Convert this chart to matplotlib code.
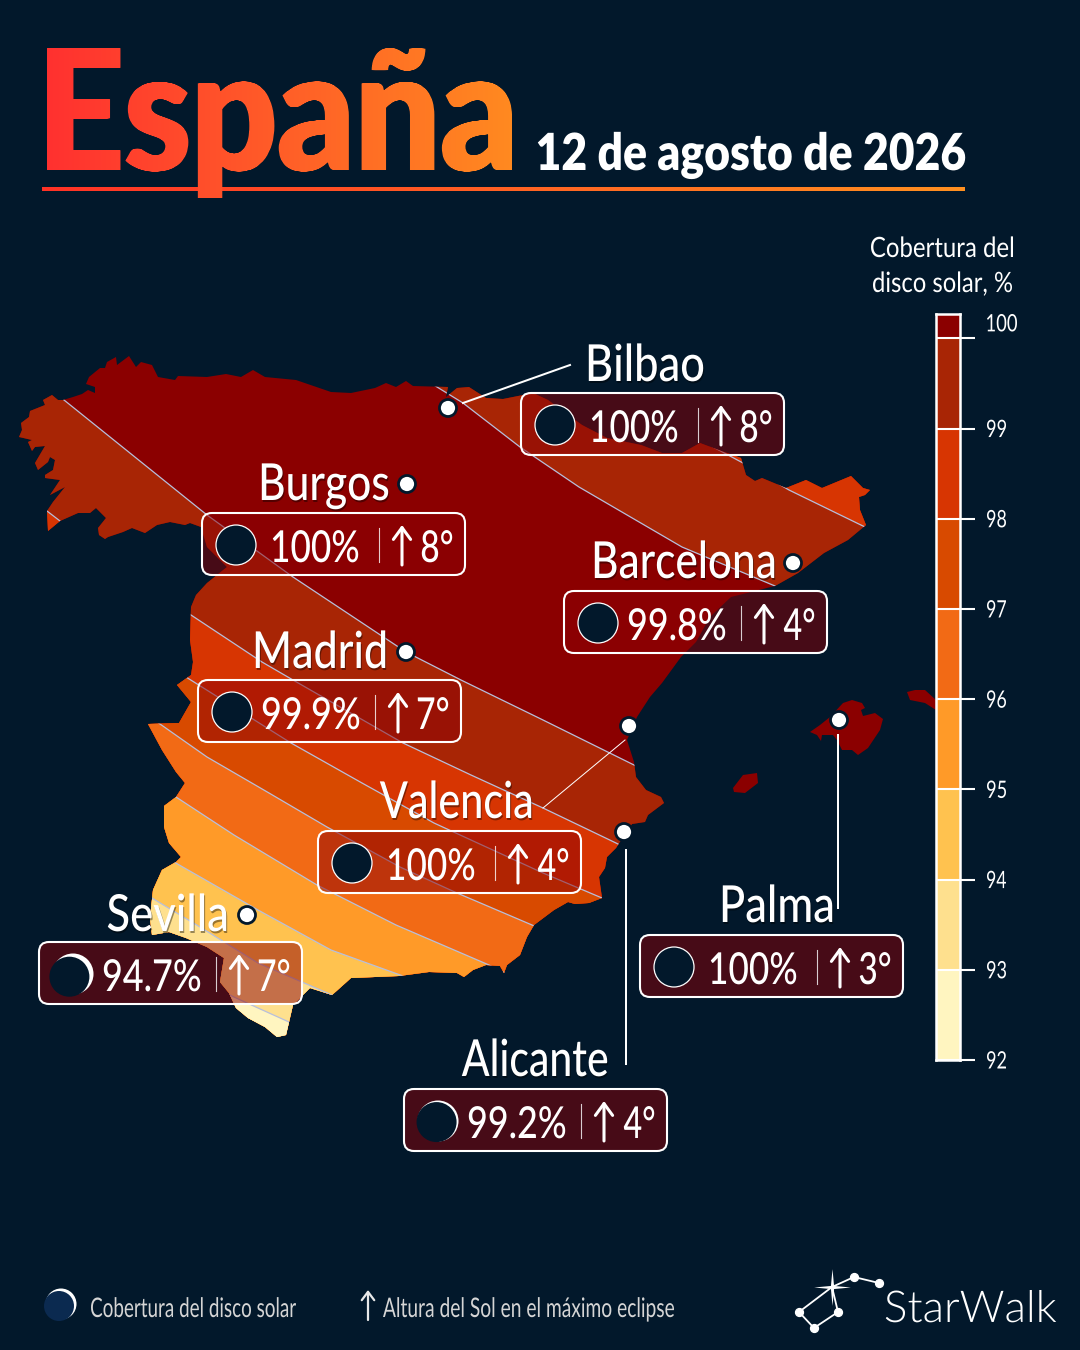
import matplotlib
matplotlib.use("Agg")
import matplotlib.pyplot as plt
import matplotlib.patheffects as pe
from matplotlib.patches import Polygon, Circle, FancyBboxPatch
from matplotlib.path import Path
from matplotlib.text import Text
from matplotlib.textpath import TextPath
from matplotlib.font_manager import FontProperties
from matplotlib.colors import to_rgb
from matplotlib.transforms import Affine2D, Bbox
import numpy as np

BG = "#02182b"
FONT = "Lato"

# coast (pixel positions)
coast = [(43,400),(52,395),(58,400),(63,400),(73,397),(82,394),(88,390),(95,393),(95,387),(86,384),(89,377),(100,368),
         (105,368),(107,362),(116,357),(117,365),(129,356),(136,367),(141,362),(152,365),(158,377),(175,380),(178,376),
         (207,377),(226,374),(241,377),(253,370),
         (265,377),(296,380),(331,392),(351,393),(375,388),(386,383),(396,387),(406,381),(413,386),(448,387),
         (446,397),(457,388),(469,387),(486,398),(503,399),(533,393),(548,400),(582,425),(607,438),(641,445),
         (662,453),(682,453),(700,443),(724,452),(741,458),(746,475),(755,481),(762,478),(786,488),(806,480),
         (822,488),(851,476),(863,488),(870,490),(865,495),(859,497),(860,510),(866,525),(848,540),(824,553),
         (798,573),(775,586),(731,597),(710,617),(696,642),(681,657),(662,683),(650,697),(637,717),(627,740),
         (634,762),(636,777),(646,790),(661,797),(664,803),(648,815),(645,822),(632,824),(623,837),(616,848),
         (607,857),(605,868),(599,877),(602,898),(589,903),(575,904),(568,902),(554,910),(534,925),(527,937),
         (520,955),(507,965),(504,973),(500,966),(486,965),(473,970),(464,977),(457,973),(429,972),(399,976),
         (351,978),(341,987),(332,995),(310,988),(293,1005),(286,1035),(277,1037),(265,1027),(248,1018),
         (236,1008),(229,993),(220,982),(224,958),(207,947),(186,938),(169,932),(152,935),(150,918),(153,890),
         (162,870),(176,862),(181,857),(169,843),(164,827),(164,806),(176,797),(185,783),(176,772),(162,750),
         (148,724),(179,723),(191,702),(177,685),(191,675),(193,662),(190,640),(191,607),(196,595),(207,583),
         (227,567),(207,547),(201,527),(190,523),(185,525),(170,522),(157,525),(145,533),(132,528),(123,532),(108,537),
         (105,539),(99,535),(98,528),(106,518),(96,508),(90,513),(78,513),(60,521),(48,531),(47,511),(53,502),(65,487),
         (50,495),(60,480),(45,478),(45,475),(53,470),(55,460),(50,457),(48,462),(38,470),(35,463),(45,446),(35,447),
         (32,451),(28,442),(32,440),(19,437),(22,430),(21,423),(29,417),(30,411),(45,405)]
mallorca = [(810,732),(820,725),(830,717),(843,703),(852,700),(862,703),(865,708),(861,710),(863,716),(875,713),
            (883,719),(880,730),(868,748),(858,755),(852,750),(842,750),(837,740),(833,735),(822,735),(821,741),(817,735)]
menorca = [(907,692),(915,690),(925,690),(936,700),(936,710),(925,703),(910,700)]
ibiza = [(733,788),(743,775),(757,773),(758,783),(745,793),(734,792)]

# band limits, north east of the totality band
north_lines = [
    [(410,370),(437,387),(463,403),(520,447),(579,487),(682,547),(775,586),(820,612)],
    [(700,440),(743,463),(789,490),(865,527),(900,545)],
]
north_colors = ["#a82505", "#d73502"]
# band limits, south west of the totality band
south_lines = [
    [(20,365),(64,400),(207,515),(293,577),(406,652),(461,680),(543,720),(634,765),(680,790)],
    [(20,490),(47,511),(60,521),(191,615),(262,662),(293,680),(403,743),(471,775),(543,808),(616,843),(660,865)],
    [(150,655),(186,677),(291,743),(362,783),(434,823),(471,840),(543,873),(602,898),(650,920)],
    [(130,703),(160,724),(207,757),(269,793),(327,827),(400,867),(457,893),(532,925),(590,950)],
    [(140,770),(176,797),(234,835),(317,885),(396,925),(489,965),(530,985)],
    [(140,842),(174,862),(258,910),(331,950),(403,976),(450,1000)],
    [(120,878),(152,898),(200,927),(258,963),(332,995),(380,1020)],
    [(200,980),(234,997),(258,1008),(289,1022),(330,1042)],
]
south_colors = ["#a82505","#d73502","#d84a00","#f26a15","#ff9a28","#ffc24f","#fee08e","#fff5c0"]

# colour scale
scale_levels = [92,93,94,95,96,97,98,99,100,100.27]
scale_colors = ["#fff5c0","#fee08e","#ffc24f","#ff9a28","#f26a15","#d84a00","#d73502","#a82505","#8b0000"]
scale_ticks = [92,93,94,95,96,97,98,99,100]

# cities
cities = ["Bilbao","Burgos","Barcelona","Madrid","Valencia","Sevilla","Palma","Alicante"]
coverage = ["100%","100%","99.8%","99.9%","100%","94.7%","100%","99.2%"]
altitude = ["8°","8°","4°","7°","4°","7°","3°","4°"]
moon_shift = [0,0,0,0,0,4.5,0,1.8]
dot_x = [448,407,793,406,629,247,839,624]
dot_y = [408,484,563,652,726,915,720,832]
label_left = [587,260,593,254,378,106,721,460]
label_right = [705,390,776,387,533,228,834,609]
label_base = [381,500,578,668,818,931,922,1076]
box_x = [521,202,564,198,318,39,640,404]
box_y = [393,513,591,680,831,942,935,1089]
leaders = [[(463,403),(570,365)],[(625,740),(543,808)],[(838,735),(838,908)],[(626,850),(626,1064)]]
leader_w = [2,1,2,2]

fig = plt.figure(figsize=(10.8,13.5), dpi=100, facecolor=BG)
ax = fig.add_axes([0,0,1,1])
ax.set_facecolor(BG)
ax.set_xlim(0,1080)
ax.set_ylim(1350,0)


# the reference font is condensed and nothing installed is, so squeeze at draw time
class Squeeze(pe.AbstractPathEffect):
    def __init__(self, x, sx, shadow=False):
        super().__init__()
        self.x, self.sx, self.shadow = x, sx, shadow

    def draw_path(self, renderer, gc, tpath, affine, rgbFace=None):
        a = ax.transData.transform((self.x,0))[0]
        m = affine + Affine2D().translate(-a,0).scale(self.sx,1).translate(a,0)
        if self.shadow:
            g = renderer.new_gc()
            g.copy_properties(gc)
            g.set_alpha(0.4)
            renderer.draw_path(g, tpath, m + Affine2D().translate(1,-2), (0,0,0))
            g.restore()
        renderer.draw_path(gc, tpath, m, rgbFace)


class NarrowText(Text):
    def get_window_extent(self, renderer=None, dpi=None):
        bb = super().get_window_extent(renderer, dpi)
        eff = self.get_path_effects()[0]
        a = ax.transData.transform((eff.x,0))[0]
        return Bbox([[a+(bb.x0-a)*eff.sx, bb.y0], [a+(bb.x1-a)*eff.sx, bb.y1]])


def fit_text(s, x0, x1, base, size, weight="normal", color="white", z=8, shadow=False, family=FONT):
    # real text, set at a height of size px and squeezed to run from x0 to x1
    inset = 1.8 if size > 30 else 1
    x0, x1 = x0+inset, x1-inset
    fp = FontProperties(family=family, weight=weight)
    ext = TextPath((0,0), s, size=size, prop=fp).get_extents()
    sx = (x1-x0)/ext.width
    left = x0 - ext.x0*sx
    t = NarrowText(left, base, s, color=color, fontproperties=fp, zorder=z)
    t.set_fontsize(size*0.72)
    t.set_path_effects([Squeeze(left, sx, shadow)])
    ax.add_artist(t)
    return sx, left


# title, the gradient sits in the glyph shapes (a little fatter, the original is a heavy cut)
sx, left = fit_text("España", 47, 512, 170, 168, weight="black", color="#ff6428", z=3)
title_path = TextPath((0,0), "España", size=168, prop=FontProperties(family=FONT, weight="black"))
title_path = Path.make_compound_path(*[Affine2D().scale(sx,-1).translate(left+d,170).transform_path(title_path)
                                       for d in (-1.8,-0.9,0,0.9,1.8)])
grad = np.linspace(to_rgb("#ff3030"), to_rgb("#ff8a20"), 256)[None,:,:]
im = ax.imshow(grad, extent=(42,515,215,40), aspect="auto", zorder=4)
im.set_clip_path(title_path, ax.transData)
fit_text("12 de agosto de 2026", 536, 967, 170, 51, weight=800)
line_grad = np.linspace(to_rgb("#ff3226"), to_rgb("#ff9020"), 256)[None,:,:]
ax.imshow(line_grad, extent=(42,965,191,187), aspect="auto", zorder=2)

# map
spain = Polygon(coast, closed=True, fc="#8b0000", ec="none", zorder=1)
ax.add_patch(spain)
for lines, colors, far in [(south_lines, south_colors, 1300), (north_lines, north_colors, 300)]:
    for line, c in zip(lines, colors):
        xs = [p[0] for p in line]
        if far == 1300:
            ring = line + [(xs[-1],far),(-50,far),(-50,line[0][1])]
        else:
            ring = line + [(1000,line[-1][1]),(1000,far),(xs[0],far)]
        band = Polygon(ring, closed=True, fc=c, ec="none", zorder=1.2)
        ax.add_patch(band)
        band.set_clip_path(spain)
for line in south_lines + north_lines:
    l, = ax.plot([p[0] for p in line], [p[1] for p in line], color="#b7bfdc", lw=0.9, zorder=1.5)
    l.set_clip_path(spain)
for island in [mallorca, menorca, ibiza]:
    ax.add_patch(Polygon(island, closed=True, fc="#8b0000", ec="none", zorder=1))

# leader lines
for line, w in zip(leaders, leader_w):
    ax.plot([p[0] for p in line], [p[1] for p in line], color="white", lw=w*0.72, zorder=5)

for i, name in enumerate(cities):
    x0, y0 = box_x[i], box_y[i]
    ax.add_patch(FancyBboxPatch((x0,y0), 263, 62, boxstyle="round,pad=0,rounding_size=10",
                                fc=(0.55,0,0.02,0.5), ec="none", zorder=6))
    ax.add_patch(FancyBboxPatch((x0,y0), 263, 62, boxstyle="round,pad=0,rounding_size=10",
                                fc="none", ec="white", lw=1.5, zorder=6.1))
    cx, cy = x0+34, y0+32
    s = moon_shift[i]
    if s > 0:
        ax.add_patch(Circle((cx,cy), 20.5, fc="white", ec="none", zorder=7))
        ax.add_patch(Circle((cx-s*0.8,cy+s*0.6), 20, fc=BG, ec="none", zorder=7.1))
    else:
        ax.add_patch(Circle((cx,cy), 20, fc=BG, ec="white", lw=0.9, zorder=7))
    if len(coverage[i]) == 4:
        fit_text(coverage[i], x0+69, x0+158, y0+49, 44, weight=500)
    else:
        fit_text(coverage[i], x0+63, x0+163, y0+49, 44, weight=500)
    ax.plot([x0+176.5,x0+176.5], [y0+15,y0+49], color="white", lw=0.8, alpha=0.8, zorder=8)
    ax.annotate("", xy=(x0+200,y0+12), xytext=(x0+200,y0+52), zorder=8,
                arrowprops=dict(arrowstyle="->,head_length=0.85,head_width=0.62", color="white", lw=2.2,
                                shrinkA=0, shrinkB=0))
    fit_text(altitude[i], x0+218, x0+252, y0+49, 44, weight=500)
    fit_text(name, label_left[i], label_right[i], label_base[i], 51, weight=500, shadow=True)
    ax.add_patch(Circle((dot_x[i],dot_y[i]), 8.5, fc="white", ec=BG, lw=2, zorder=9))

# footer
ax.add_patch(Circle((61,1304), 15.5, fc="white", ec="none", zorder=3))
ax.add_patch(Circle((59,1306), 15, fc="#0b2a50", ec="none", zorder=3.1))
fit_text("Cobertura del disco solar", 90, 297, 1317, 27, color="#d5d5d5")
ax.annotate("", xy=(368,1290), xytext=(368,1320),
            arrowprops=dict(arrowstyle="->,head_length=0.6,head_width=0.45", color="#e8e8e8", lw=1.6, shrinkA=0, shrinkB=0))
fit_text("Altura del Sol en el máximo eclipse", 382, 675, 1317, 27, color="#d5d5d5")

# logo
logo_x = [879,854,832,799,814,838,832]
logo_y = [1283,1277,1287,1312,1328,1312,1287]
ax.plot(logo_x, logo_y, color="white", lw=1.3)
ax.scatter([879,854,799,814,838], [1283,1277,1312,1328,1312], s=32, color="white", zorder=3)
ax.scatter([832], [1287], s=700, marker=Path.unit_regular_star(4, innerCircle=0.12), color="white", linewidths=0, zorder=3)
fit_text("StarWalk", 884, 1058, 1322, 44, weight=300, z=3)

ax.axis("off")

# colour scale, on its own axes in percent
top, bottom = 314, 1060
cax = fig.add_axes([936/1080, 1-bottom/1350, 24/1080, (bottom-top)/1350])
cax.bar([0]*len(scale_colors), np.diff(scale_levels), bottom=scale_levels[:-1], width=1, color=scale_colors,
        edgecolor="none")
cax.set_xlim(-0.5,0.5)
cax.set_ylim(scale_levels[0], scale_levels[-1])
cax.set_xticks([])
cax.set_yticks(scale_ticks)
cax.set_yticklabels([])
cax.yaxis.tick_right()
cax.tick_params(axis="y", length=11, width=1.5, color="white", pad=0)
for sp in cax.spines.values():
    sp.set_color("white")
    sp.set_linewidth(1.8)
for v in scale_ticks:
    cax.axhline(v, color="white", lw=1.5)
    ypx = cax.transData.transform((0,v))[1]
    ypx = 1350 - ypx
    if v == 100:
        fit_text("100", 986, 1018, ypx-7, 24, z=3)
    else:
        fit_text(str(v), 986, 1007, ypx+8.5, 24, z=3)
fit_text("Cobertura del", 870, 1014, 257, 28, z=3)
fit_text("disco solar, %", 872, 1013, 292, 28, z=3)

fig.savefig("out.png", dpi=100, facecolor=BG)
